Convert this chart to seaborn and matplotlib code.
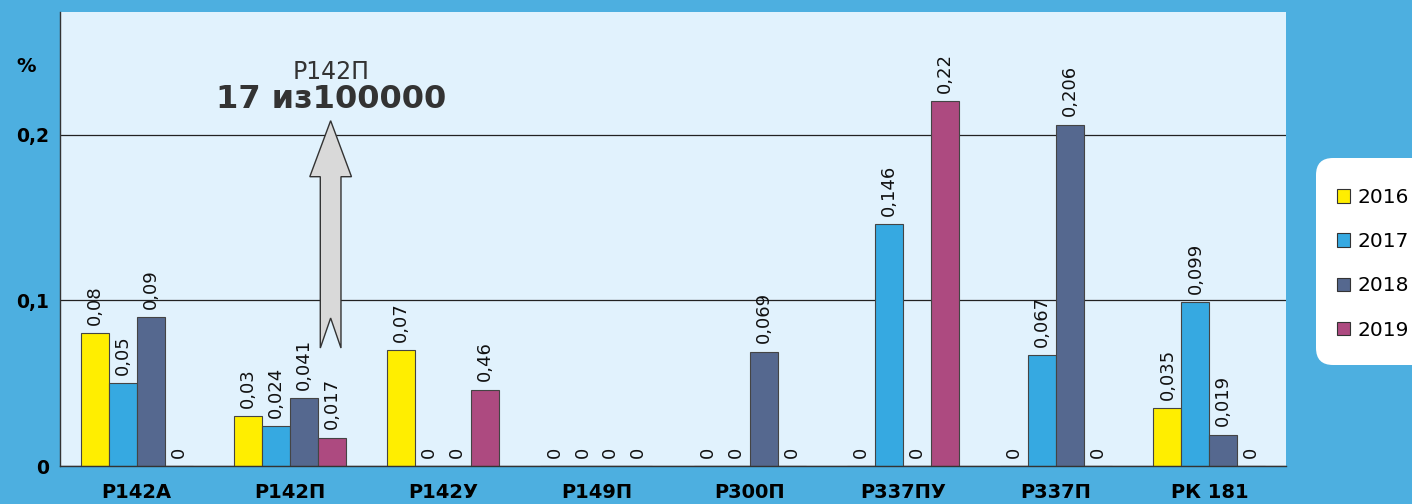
import numpy as np
import pandas as pd
import matplotlib
matplotlib.use('Agg')
import matplotlib.pyplot as plt
from matplotlib.patches import Polygon, FancyBboxPatch
from matplotlib.transforms import IdentityTransform
import seaborn as sns

# Данные
categories = ['Р142А', 'Р142П', 'Р142У', 'Р149П', 'Р300П', 'Р337ПУ', 'Р337П', 'РК 181']
years = ['2016', '2017', '2018', '2019']

v2016 = [0.08, 0.03, 0.07, 0, 0, 0, 0, 0.035]
v2017 = [0.05, 0.024, 0, 0, 0, 0.146, 0.067, 0.099]
v2018 = [0.09, 0.041, 0, 0, 0.069, 0, 0.206, 0.019]
v2019 = [0, 0.017, 0.046, 0, 0, 0.22, 0, 0]

l2016 = ['0,08', '0,03', '0,07', '0', '0', '0', '0', '0,035']
l2017 = ['0,05', '0,024', '0', '0', '0', '0,146', '0,067', '0,099']
l2018 = ['0,09', '0,041', '0', '0', '0,069', '0', '0,206', '0,019']
l2019 = ['0', '0,017', '0,46', '0', '0', '0,22', '0', '0']

colors = ['#FFEE00', '#36A9E1', '#55688F', '#AD4A80']

df = pd.DataFrame({
    'Тип': categories * 4,
    'Год': [y for y in years for _ in categories],
    'Значение': v2016 + v2017 + v2018 + v2019,
})

sns.set_style('white')
plt.rcParams['font.family'] = ['DejaVu Sans']
plt.rcParams['text.color'] = 'black'
plt.rcParams['xtick.labelcolor'] = 'black'
plt.rcParams['ytick.labelcolor'] = 'black'

W, H = 1412, 504
fig = plt.figure(figsize=(W / 100, H / 100), dpi=100, facecolor='#4DAFE0')
ax = fig.add_axes([60 / W, 38 / H, 1226 / W, 454 / H])
ax.set_facecolor('#E1F2FD')

sns.barplot(data=df, x='Тип', y='Значение', hue='Год', order=categories,
            hue_order=years, palette=colors, width=0.73, saturation=1,
            edgecolor='#444444', linewidth=0.8, errorbar=None, ax=ax, legend=False)

for cont, labs in zip(ax.containers, [l2016, l2017, l2018, l2019]):
    ax.bar_label(cont, labels=labs, rotation=90, padding=6, fontsize=13, color='#111111')

# Оси
ax.set_xlim(-0.5, 7.5)
ax.set_ylim(0, 0.274)
ax.set_yticks([0, 0.1, 0.2])
ax.set_yticklabels(['0', '0,1', '0,2'], fontsize=13.5, fontweight='bold')
ax.set_xticks(range(len(categories)))
ax.set_xticklabels(categories, fontsize=14, fontweight='bold')
ax.set_xticks(np.arange(-0.5, 8, 1), minor=True)
ax.tick_params(axis='x', which='major', length=0, pad=12)
ax.tick_params(axis='x', which='minor', length=5, direction='out', color='#333333', width=1)
ax.tick_params(axis='y', length=5, direction='out', color='#333333', width=1, pad=3)
ax.set_xlabel('')
ax.set_ylabel('')
ax.yaxis.grid(True, color='#222222', linewidth=0.9)
ax.set_axisbelow(True)
for s in ['top', 'right']:
    ax.spines[s].set_visible(False)
for s in ['left', 'bottom']:
    ax.spines[s].set_color('#333333')
    ax.spines[s].set_linewidth(1)

# Стрелка с подписью
arrow_x = 1.266
sw, hw = 0.0675, 0.136
tail, notch, base, tip = 0.0712, 0.0893, 0.1746, 0.2084
pts = [(arrow_x - sw, tail), (arrow_x, notch), (arrow_x + sw, tail),
       (arrow_x + sw, base), (arrow_x + hw, base), (arrow_x, tip),
       (arrow_x - hw, base), (arrow_x - sw, base)]
ax.add_patch(Polygon(pts, closed=True, facecolor='#D9D9D9', edgecolor='#333333',
                     linewidth=1, zorder=4))
ax.text(arrow_x, 0.2378, 'Р142П', ha='center', va='center', fontsize=17, color='#333333')
ax.text(arrow_x, 0.2209, '17 из100000', ha='center', va='center', fontsize=23,
        fontweight='bold', color='#333333')

fig.text(26 / W, 1 - 67 / H, '%', ha='center', va='center', fontsize=14, fontweight='bold')

# Легенда: белая плашка со скруглёнными углами (в пикселях)
box = FancyBboxPatch((1316, H - 365), 140, 207,
                     boxstyle='round,pad=0,rounding_size=17',
                     transform=IdentityTransform(), facecolor='white',
                     edgecolor='none', zorder=-1)
fig.patches.append(box)
handles = [plt.Rectangle((0, 0), 1, 1, facecolor=c, edgecolor='#333333', linewidth=0.8)
           for c in colors]
leg = fig.legend(handles, years, loc='upper left', bbox_to_anchor=(1337 / W, 1 - 188 / H),
                 borderaxespad=0, borderpad=0, fontsize=14.5, frameon=False,
                 handlelength=0.65, handleheight=0.65, handletextpad=0.35,
                 labelspacing=1.25)
leg.set_zorder(5)
for t in leg.get_texts():
    t.set_color('black')

fig.savefig('out.png', dpi=100, facecolor=fig.get_facecolor())
